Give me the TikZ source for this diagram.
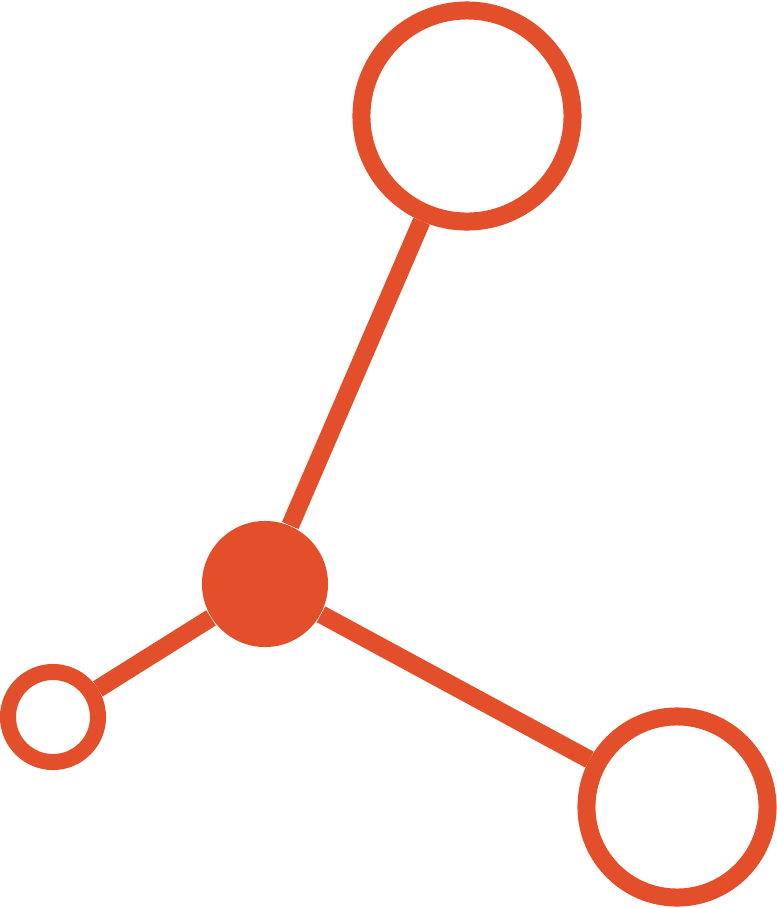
\documentclass[tikz,border=0pt]{standalone}
\usepackage{xcolor}
\usepackage{tikz}
\usetikzlibrary{positioning}

\definecolor{molred}{RGB}{227,78,43}

\begin{document}
\begin{tikzpicture}[
    x=0.01cm, y=-0.01cm,
    ring/.style={circle, draw=molred, line width=0.18cm, inner sep=0pt, fill=white},
    hub/.style={circle, fill=molred, inner sep=0pt, minimum size=1.26cm},
    bond/.style={draw=molred, line width=0.18cm}
]
\useasboundingbox (0,0) rectangle (777,908);

\node[hub] (core) at (265,584) {};
\node[ring, minimum size=2.11cm] (top) at (467,116) {};
\node[ring, minimum size=1.81cm] (right) at (677,807) {};
\node[ring, line width=0.16cm, minimum size=0.9cm] (left) at (53,717) {};

\draw[bond] (core) -- (top);
\draw[bond] (core) -- (right);
\draw[bond] (core) -- (left);
\end{tikzpicture}
\end{document}
